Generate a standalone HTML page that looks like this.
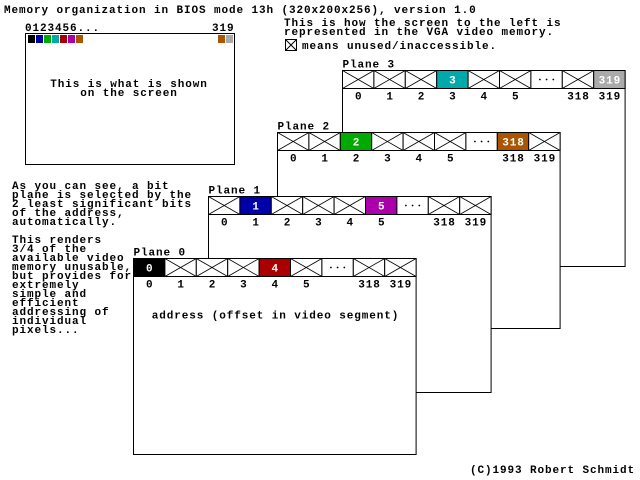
<!DOCTYPE html>
<html><head><meta charset="utf-8"><style>
html,body{margin:0;padding:0;background:#fff}
svg{display:block}
text{font-family:"Liberation Mono",monospace;font-weight:bold;font-size:11px;letter-spacing:0.9px;fill:#000}
.w{fill:#fff}
</style></head><body>
<svg width="640" height="480" viewBox="0 0 640 480" xmlns="http://www.w3.org/2000/svg">
<defs>
<g id="x"><rect x="0" y="0" width="31.4" height="18" fill="#fff" stroke="#000" stroke-width="1"/><path d="M0 0L31.4 18M31.4 0L0 18" stroke="#000" stroke-width="0.8" fill="none"/></g>
<g id="d"><rect x="0" y="0" width="31.4" height="18" fill="#fff" stroke="#000"/><circle cx="9" cy="9" r="0.9"/><circle cx="15.7" cy="9" r="0.9"/><circle cx="22.4" cy="9" r="0.9"/></g>
</defs>
<text x="4" y="13">Memory organization in BIOS mode 13h (320x200x256), version 1.0</text>
<text x="25" y="31">0123456...</text><text x="212" y="31">319</text>
<rect x="25.5" y="33.5" width="209" height="131" fill="#fff" stroke="#000"/>
<rect x="28" y="35" width="7" height="8" fill="#000"/><rect x="36" y="35" width="7" height="8" fill="#0000aa"/><rect x="44" y="35" width="7" height="8" fill="#00aa00"/><rect x="52" y="35" width="7" height="8" fill="#00aaaa"/><rect x="60" y="35" width="7" height="8" fill="#aa0000"/><rect x="68" y="35" width="7" height="8" fill="#aa00aa"/><rect x="76" y="35" width="7" height="8" fill="#aa5500"/><rect x="218" y="35" width="7" height="8" fill="#aa5500"/><rect x="226" y="35" width="7" height="8" fill="#aaaaaa"/>
<text x="129" y="87" text-anchor="middle">This is what is shown</text>
<text x="129" y="96" text-anchor="middle">on the screen</text>
<text x="284" y="26">This is how the screen to the left is</text>
<text x="284" y="35">represented in the VGA video memory.</text>
<rect x="285.5" y="39.5" width="11" height="11" fill="#fff" stroke="#000"/><path d="M285.5 39.5L296.5 50.5M296.5 39.5L285.5 50.5" stroke="#000"/>
<text x="302" y="49">means unused/inaccessible.</text>
<g>
<text x="12" y="189">As you can see, a bit</text><text x="12" y="198">plane is selected by the</text><text x="12" y="207">2 least significant bits</text><text x="12" y="216">of the address,</text><text x="12" y="225">automatically.</text>
<text x="12" y="243">This renders</text><text x="12" y="252">3/4 of the</text><text x="12" y="261">available video</text><text x="12" y="270">memory unusable,</text><text x="12" y="279">but provides for</text><text x="12" y="288">extremely</text><text x="12" y="297">simple and</text><text x="12" y="306">efficient</text><text x="12" y="315">addressing of</text><text x="12" y="324">individual</text><text x="12" y="333">pixels...</text>
</g>
<!-- Plane 3 -->
<g transform="translate(342.5,70.5)">
<text x="0" y="-3">Plane 3</text>
<rect x="0" y="0" width="282.6" height="196" fill="#fff" stroke="#000"/>
<use href="#x" x="0"/><use href="#x" x="31.4"/><use href="#x" x="62.8"/><rect x="94.2" y="0" width="31.4" height="18" fill="#00aaaa" stroke="#000"/><use href="#x" x="125.6"/><use href="#x" x="157"/><use href="#d" x="188.4"/><use href="#x" x="219.8"/><rect x="251.2" y="0" width="31.4" height="18" fill="#aaaaaa" stroke="#000"/>
<text class="w" x="110.4" y="13" text-anchor="middle">3</text><text class="w" x="267.4" y="13" text-anchor="middle">319</text>
<text x="16.2" y="29" text-anchor="middle">0</text><text x="47.6" y="29" text-anchor="middle">1</text><text x="79" y="29" text-anchor="middle">2</text><text x="110.4" y="29" text-anchor="middle">3</text><text x="141.8" y="29" text-anchor="middle">4</text><text x="173.2" y="29" text-anchor="middle">5</text><text x="236" y="29" text-anchor="middle">318</text><text x="267.4" y="29" text-anchor="middle">319</text>
</g>
<!-- Plane 2 -->
<g transform="translate(277.5,132.5)">
<text x="0" y="-3">Plane 2</text>
<rect x="0" y="0" width="282.6" height="196" fill="#fff" stroke="#000"/>
<use href="#x" x="0"/><use href="#x" x="31.4"/><rect x="62.8" y="0" width="31.4" height="18" fill="#00aa00" stroke="#000"/><use href="#x" x="94.2"/><use href="#x" x="125.6"/><use href="#x" x="157"/><use href="#d" x="188.4"/><rect x="219.8" y="0" width="31.4" height="18" fill="#aa5500" stroke="#000"/><use href="#x" x="251.2"/>
<text class="w" x="79" y="13" text-anchor="middle">2</text><text class="w" x="236" y="13" text-anchor="middle">318</text>
<text x="16.2" y="29" text-anchor="middle">0</text><text x="47.6" y="29" text-anchor="middle">1</text><text x="79" y="29" text-anchor="middle">2</text><text x="110.4" y="29" text-anchor="middle">3</text><text x="141.8" y="29" text-anchor="middle">4</text><text x="173.2" y="29" text-anchor="middle">5</text><text x="236" y="29" text-anchor="middle">318</text><text x="267.4" y="29" text-anchor="middle">319</text>
</g>
<!-- Plane 1 -->
<g transform="translate(208.5,196.5)">
<text x="0" y="-3">Plane 1</text>
<rect x="0" y="0" width="282.6" height="196" fill="#fff" stroke="#000"/>
<use href="#x" x="0"/><rect x="31.4" y="0" width="31.4" height="18" fill="#0000aa" stroke="#000"/><use href="#x" x="62.8"/><use href="#x" x="94.2"/><use href="#x" x="125.6"/><rect x="157" y="0" width="31.4" height="18" fill="#aa00aa" stroke="#000"/><use href="#d" x="188.4"/><use href="#x" x="219.8"/><use href="#x" x="251.2"/>
<text class="w" x="47.6" y="13" text-anchor="middle">1</text><text class="w" x="173.2" y="13" text-anchor="middle">5</text>
<text x="16.2" y="29" text-anchor="middle">0</text><text x="47.6" y="29" text-anchor="middle">1</text><text x="79" y="29" text-anchor="middle">2</text><text x="110.4" y="29" text-anchor="middle">3</text><text x="141.8" y="29" text-anchor="middle">4</text><text x="173.2" y="29" text-anchor="middle">5</text><text x="236" y="29" text-anchor="middle">318</text><text x="267.4" y="29" text-anchor="middle">319</text>
</g>
<!-- Plane 0 -->
<g transform="translate(133.5,258.5)">
<text x="0" y="-3">Plane 0</text>
<rect x="0" y="0" width="282.6" height="196" fill="#fff" stroke="#000"/>
<rect x="0" y="0" width="31.4" height="18" fill="#000" stroke="#000"/><use href="#x" x="31.4"/><use href="#x" x="62.8"/><use href="#x" x="94.2"/><rect x="125.6" y="0" width="31.4" height="18" fill="#aa0000" stroke="#000"/><use href="#x" x="157"/><use href="#d" x="188.4"/><use href="#x" x="219.8"/><use href="#x" x="251.2"/>
<text class="w" x="16.2" y="13" text-anchor="middle">0</text><text class="w" x="141.8" y="13" text-anchor="middle">4</text>
<text x="16.2" y="29" text-anchor="middle">0</text><text x="47.6" y="29" text-anchor="middle">1</text><text x="79" y="29" text-anchor="middle">2</text><text x="110.4" y="29" text-anchor="middle">3</text><text x="141.8" y="29" text-anchor="middle">4</text><text x="173.2" y="29" text-anchor="middle">5</text><text x="236" y="29" text-anchor="middle">318</text><text x="267.4" y="29" text-anchor="middle">319</text>
<text x="142" y="60" text-anchor="middle">address (offset in video segment)</text>
</g>
<text x="470" y="473">(C)1993 Robert Schmidt</text>
</svg>
</body></html>
